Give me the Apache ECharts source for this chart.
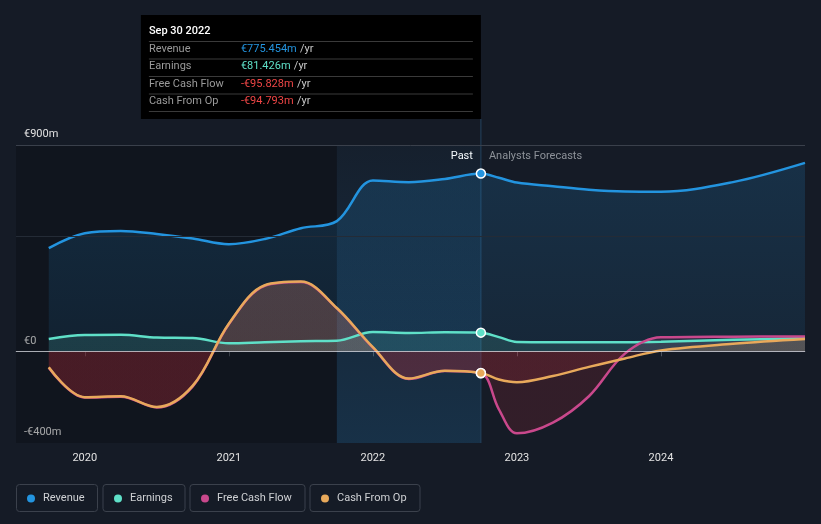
<!DOCTYPE html>
<html>
<head>
<meta charset="utf-8">
<script src="https://cdn.jsdelivr.net/npm/echarts@6.0.0/dist/echarts.min.js"></script>
<style>
  html, body { margin: 0; padding: 0; background: #151b26; }
  #MainContent { width: 821px; height: 524px; }
</style>
</head>
<body>
<div id="MainContent"></div>
<script>
// decimal years, quarter ends
var pastDates = [2019.75, 2020.0, 2020.25, 2020.5, 2020.75, 2021.0, 2021.25, 2021.5, 2021.75, 2022.0, 2022.25, 2022.5, 2022.75];
var forecastDates = [2022.875, 2023.0, 2023.25, 2023.5, 2023.75, 2024.0, 2024.5, 2025.0];

var revenuePast = [450, 515, 525, 512, 492, 467, 490, 537, 568, 745, 738, 752, 775.454];
var earningsPast = [54, 71, 72, 60, 58, 35, 40, 44, 46, 84, 80, 83, 81.426];
var fcfPast = [-72, -202, -198, -245, -153, 118, 286, 302, 187, 16, -121, -86, -95.828];
var cfoPast = [-70, -200, -196, -243, -150, 120, 288, 304, 189, 18, -119, -85, -94.793];

var revenueForecast = [757, 736, 720, 705, 697, 696, 738, 822];
var earningsForecast = [62, 41, 40, 40, 40, 42, 50, 58];
var fcfForecast = [-253, -358, -311, -196, -10, 61, 64, 65];
var cfoForecast = [-123, -135, -108, -68, -31, 4, 33, 54];

var seriesNames = ['Revenue', 'Earnings', 'Free Cash Flow', 'Cash From Op'];
var seriesColors = ['#2394df', '#5fe0c8', '#c9488c', '#e8a95b'];
var xTickValues = [2020, 2021, 2022, 2023, 2024];
var yLabelValues = [-400, 0, 900];

var nowDate = 2022.75;
var bandStart = 2021.75;
var xMin = 2019.5226, xMax = 2025.0;
var yMin = -400, yMax = 900;

var gridTop = 145, gridBottom = 81, chartH = 524;
var gridH = chartH - gridTop - gridBottom;
var zeroFrac = yMax / (yMax - yMin);

function pairs(dates, vals) {
    return dates.map(function (d, i) { return [d, vals[i]]; });
}

function signFill(above, below) {
    return new echarts.graphic.LinearGradient(0, gridTop, 0, gridTop + gridH, [
        {offset: 0, color: above},
        {offset: zeroFrac, color: above},
        {offset: zeroFrac, color: below},
        {offset: 1, color: below}
    ], true);
}

function fmt(v) {
    return (v < 0 ? '-' : '') + '€' + Math.abs(v).toFixed(3) + 'm';
}

var chart = echarts.init(document.getElementById('MainContent'));

var allDates = pastDates.concat(forecastDates);
var values = [
    revenuePast.concat(revenueForecast),
    earningsPast.concat(earningsForecast),
    fcfPast.concat(fcfForecast),
    cfoPast.concat(cfoForecast)
];
var fills = [
    new echarts.graphic.LinearGradient(0, 0, 0, 1, [
        {offset: 0, color: 'rgba(35,148,223,0.25)'},
        {offset: 1, color: 'rgba(35,148,223,0.14)'}
    ]),
    signFill('rgba(95,224,200,0.2)', 'rgba(95,224,200,0.2)'),
    signFill('rgba(201,72,140,0.18)', 'rgba(212,45,58,0.22)'),
    signFill('rgba(232,169,91,0.24)', 'rgba(212,45,58,0.22)')
];

var series = [{
    type: 'line',
    data: [],
    z: 1,
    silent: true,
    markArea: {
        silent: true,
        data: [
            [{xAxis: xMin, itemStyle: {color: 'rgba(5,8,12,0.28)'}}, {xAxis: bandStart}],
            [{xAxis: bandStart, itemStyle: {color: new echarts.graphic.LinearGradient(0, 0, 0, 1, [
                {offset: 0, color: 'rgba(35,148,223,0.04)'},
                {offset: 1, color: 'rgba(35,148,223,0.18)'}
            ])}}, {xAxis: nowDate}]
        ]
    },
    markLine: {
        silent: true,
        symbol: 'none',
        label: {show: false},
        data: [
            {yAxis: 900, lineStyle: {color: '#3a404b', width: 1, type: 'solid'}},
            {yAxis: 500, lineStyle: {color: '#242b36', width: 1, type: 'solid'}}
        ]
    }
}];

values.forEach(function (vals, i) {
    series.push({
        name: seriesNames[i],
        type: 'line',
        color: seriesColors[i],
        data: pairs(allDates, vals),
        smooth: 0.35,
        showSymbol: false,
        lineStyle: {width: 2.5, color: seriesColors[i]},
        areaStyle: {color: fills[i], origin: 0},
        markPoint: {
            symbol: 'circle',
            symbolSize: 9,
            label: {show: false},
            itemStyle: {color: seriesColors[i], borderColor: '#ffffff', borderWidth: 1.5},
            data: [{coord: [nowDate, vals[pastDates.length - 1]]}]
        }
    });
});

series.push({
    type: 'line',
    data: [],
    silent: true,
    markLine: {
        silent: true,
        symbol: 'none',
        label: {show: false},
        data: [{yAxis: 0, lineStyle: {color: 'rgba(220,222,228,0.7)', width: 1.2, type: 'solid'}}]
    }
});

var legendLeft = [22, 109, 196, 316];

var option = {
    animation: false,
    backgroundColor: '#151b26',
    textStyle: {fontFamily: 'Roboto'},
    grid: {left: 16, right: 16, top: gridTop, bottom: gridBottom, containLabel: false, outerBoundsMode: 'none'},
    legend: seriesNames.map(function (n, i) {
        return {
            data: [n],
            left: legendLeft[i],
            top: 488,
            icon: 'circle',
            itemWidth: 8,
            itemHeight: 8,
            selectedMode: false,
            textStyle: {color: '#cfd1d4', fontSize: 11, fontFamily: 'Roboto', padding: [0, 0, 0, 3]}
        };
    }),
    xAxis: {
        type: 'value',
        min: xMin,
        max: xMax,
        splitLine: {show: false},
        axisLine: {lineStyle: {color: '#4a505b'}},
        axisTick: {show: true, length: 5, lineStyle: {color: '#4a505b'}, customValues: xTickValues},
        axisLabel: {color: '#e2e2e2', fontSize: 11, margin: 10, customValues: xTickValues,
            formatter: function (v) { return String(Math.round(v)); }}
    },
    yAxis: {
        type: 'value',
        min: yMin,
        max: yMax,
        interval: 100,
        splitLine: {show: false},
        axisLine: {show: false},
        axisTick: {show: false},
        axisLabel: {
            inside: true,
            margin: 8,
            color: '#e2e2e2',
            fontSize: 11,
            verticalAlign: 'bottom',
            padding: [0, 0, 5, 0],
            formatter: function (v) {
                if (yLabelValues.indexOf(v) < 0) return '';
                return v === 0 ? '€0' : (v < 0 ? '-' : '') + '€' + Math.abs(v) + 'm';
            }
        }
    },
    series: series
};

chart.setOption(option);

var lineX = chart.convertToPixel({xAxisIndex: 0}, nowDate);
var boxW = 340, boxTop = 15, boxH = 104;
var boxX = lineX - boxW;
var rowY = [49, 66.5, 84, 101.5];
var sepY = [41, 58.5, 76, 93.5, 111];
var nowIdx = pastDates.length - 1;
var tipVals = [revenuePast[nowIdx], earningsPast[nowIdx], fcfPast[nowIdx], cfoPast[nowIdx]];

var graphics = [
    {type: 'line', z: 1, shape: {x1: lineX, y1: boxTop + boxH, x2: lineX, y2: gridTop + gridH}, style: {stroke: '#24435e', lineWidth: 1}},
    {type: 'text', x: lineX - 8, y: 156, style: {text: 'Past', fill: '#ffffff', font: '11px Roboto', align: 'right', verticalAlign: 'middle'}},
    {type: 'text', x: lineX + 8, y: 156, style: {text: 'Analysts Forecasts', fill: '#8d9299', font: '11px Roboto', align: 'left', verticalAlign: 'middle'}},
    {type: 'rect', shape: {x: boxX, y: boxTop, width: boxW, height: boxH}, style: {fill: '#000000'}},
    {type: 'text', x: boxX + 8, y: 31, style: {text: 'Sep 30 2022', fill: '#ffffff', font: '500 11px Roboto', verticalAlign: 'middle'}}
];
sepY.forEach(function (y) {
    graphics.push({type: 'line', shape: {x1: boxX + 8, y1: y + 0.5, x2: lineX - 8, y2: y + 0.5}, style: {stroke: '#3a3a3a', lineWidth: 1}});
});
seriesNames.forEach(function (n, i) {
    var valColor = tipVals[i] < 0 ? '#ee4646' : seriesColors[i];
    graphics.push({type: 'text', x: boxX + 8, y: rowY[i], style: {text: n, fill: '#9a9a9a', font: '11px Roboto', verticalAlign: 'middle'}});
    graphics.push({type: 'text', x: boxX + 100, y: rowY[i], style: {
        text: '{v|' + fmt(tipVals[i]) + '} {u|/yr}',
        verticalAlign: 'middle',
        rich: {
            v: {fill: valColor, fontSize: 11, fontFamily: 'Roboto'},
            u: {fill: '#c8c8c8', fontSize: 11, fontFamily: 'Roboto'}
        }
    }});
});
var boxes = [[16, 97], [102.5, 184.5], [189.5, 304.5], [309.5, 419.5]];
boxes.forEach(function (b) {
    graphics.push({type: 'rect', shape: {x: b[0] + 0.5, y: 484.5, width: b[1] - b[0], height: 27, r: 3}, style: {fill: 'none', stroke: '#3b414c', lineWidth: 1}});
});

chart.setOption({graphic: graphics});
</script>
</body>
</html>
